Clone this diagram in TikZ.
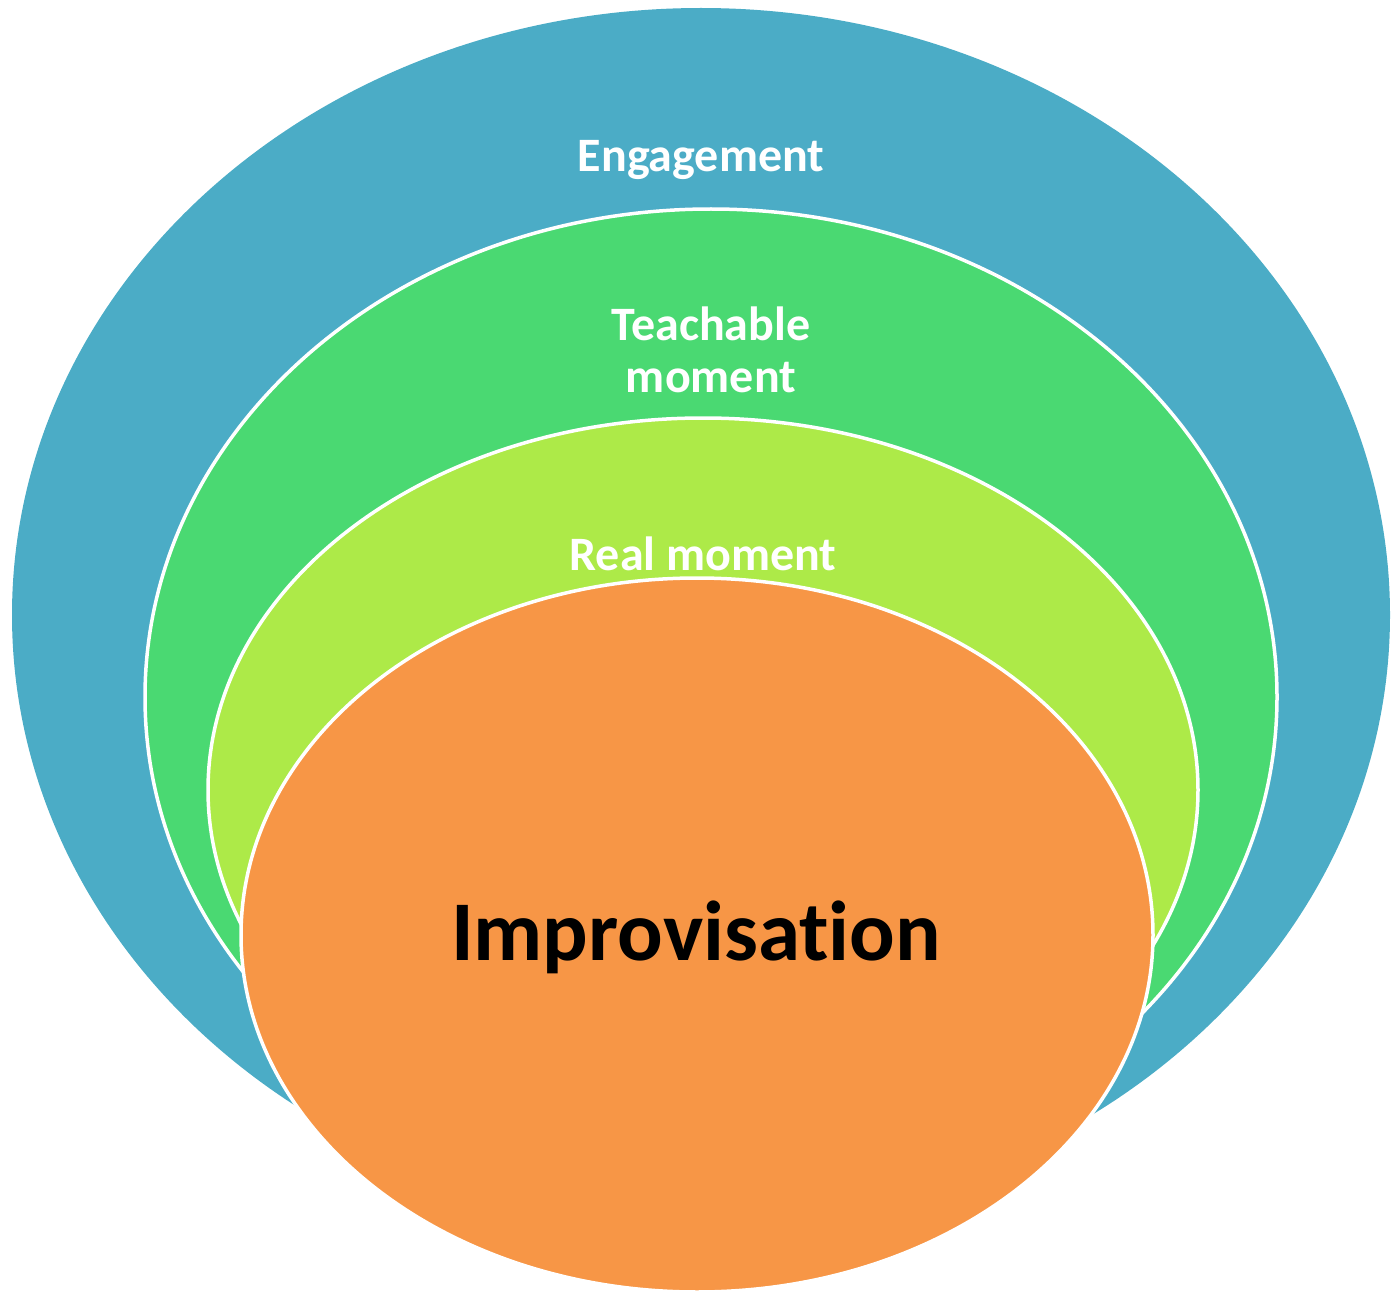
\documentclass[tikz,border=0pt]{standalone}
\usepackage{fontspec}
\setmainfont{Carlito}[Ligatures=NoCommon]
\definecolor{cblue}{HTML}{4BACC6}
\definecolor{cgreen}{HTML}{4AD972}
\definecolor{clime}{HTML}{ADEA48}
\definecolor{corange}{HTML}{F79646}
\begin{document}
\begin{tikzpicture}[x=1pt,y=-1pt,
  ring/.style={draw=white,line width=3.5pt},
  lbl/.style={text=white,font=\bfseries\fontsize{48}{52}\selectfont,align=center,inner sep=0pt,anchor=base}]
\useasboundingbox (0,0) rectangle (1393,1292);
\fill[cblue] (701,615) ellipse [x radius=689, y radius=607];
\path[fill=cgreen,ring] (711,697) ellipse [x radius=566, y radius=488];
\path[fill=clime,ring] (703,790) ellipse [x radius=495, y radius=372];
\path[fill=corange,ring] (697,935) ellipse [x radius=456, y radius=357];
\node[lbl] (eng) at (701,172) {Engagement};
\node[lbl] (teach) at (711,392) {Teachable\\moment};
\node[lbl] (real) at (703,570) {Real moment};
\node[inner sep=0pt,anchor=base,font=\bfseries\fontsize{85}{96}\selectfont] (imp) at (696,960) {Improvisation};
\end{tikzpicture}
\end{document}
